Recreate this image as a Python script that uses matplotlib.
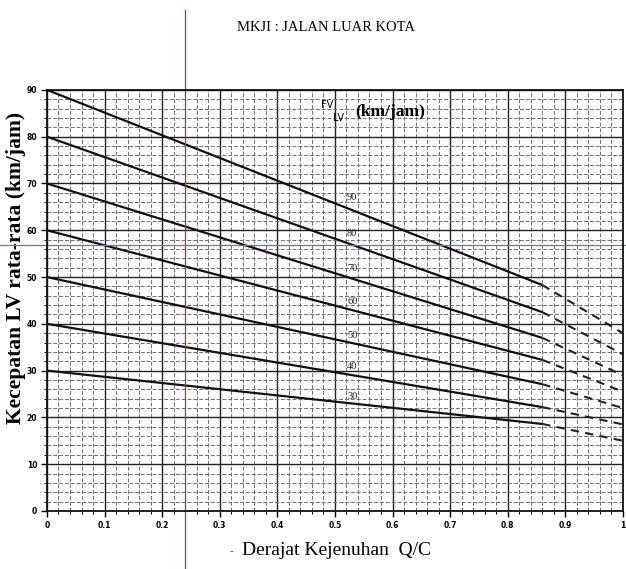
import matplotlib
matplotlib.use('Agg')
import matplotlib.pyplot as plt
import numpy as np

# free-flow speed curves (FV_LV, km/jam)
fv_values = [90, 80, 70, 60, 50, 40, 30]
qc_solid_end = 0.86
speed_at_solid_end = [48.3, 42.5, 37.0, 32.3, 27.1, 22.2, 18.6]
speed_at_qc1 = [38.0, 33.5, 29.0, 25.5, 22.0, 18.5, 15.0]
curve_labels = ["90", "80", "70", "60", "50", "40", "30"]
label_y = [66.9, 59.4, 51.9, 44.7, 37.6, 30.8, 24.4]

x_ticks = [0, 0.1, 0.2, 0.3, 0.4, 0.5, 0.6, 0.7, 0.8, 0.9, 1.0]
x_tick_labels = ["0", "0.1", "0.2", "0.3", "0.4", "0.5", "0.6", "0.7", "0.8", "0.9", "1"]
y_ticks = list(range(0, 91, 10))

marker_qc = 0.24     # red guide line
marker_speed = 56.8  # blue guide line

serif = "Liberation Serif"

fig = plt.figure(figsize=(6.26, 5.69), dpi=100)
ax = fig.add_axes([0.075, 0.102, 0.920, 0.740])

ax.set_xlim(0, 1)
ax.set_ylim(0, 90)

# graph-paper grid
ax.set_xticks(np.arange(0, 1.001, 0.02), minor=True)
ax.set_yticks(np.arange(0, 90.1, 2), minor=True)
ax.set_xticks(x_ticks)
ax.set_xticklabels(x_tick_labels)
ax.set_yticks(y_ticks)
ax.grid(which="minor", color="#6e6e6e", lw=0.7, ls=(0, (4, 2)))
ax.grid(which="major", color="#222222", lw=1.0)
ax.set_axisbelow(True)

for fv, s1, s2 in zip(fv_values, speed_at_solid_end, speed_at_qc1):
    ax.plot([0, qc_solid_end], [fv, s1], color="#111111", lw=1.6, solid_capstyle="butt")
    ax.plot([qc_solid_end, 1.0], [s1, s2], color="#222222", lw=1.5,
            ls=(0, (4, 3)))

for lab, ly in zip(curve_labels, label_y):
    ax.text(0.521, ly, lab, fontsize=7.5, family=serif, ha="left", va="center",
            color="#222222")

ax.text(0.476, 86.8, "FV", fontsize=7, family="DejaVu Sans", ha="left", va="center")
ax.text(0.497, 84.0, "LV", fontsize=7, family="DejaVu Sans", ha="left", va="center")
ax.text(0.536, 85.3, "(km/jam)", fontsize=12.5, family=serif, weight="bold",
        ha="left", va="center")

for sp in ax.spines.values():
    sp.set_linewidth(1.3)
    sp.set_color("#111111")

ax.tick_params(which="major", length=4, width=1, labelsize=5.5, pad=3)
ax.tick_params(which="minor", length=2, width=0.7)
for t in ax.get_xticklabels() + ax.get_yticklabels():
    t.set_fontweight("bold")

ax.set_ylabel("Kecepatan LV rata-rata (km/jam)", fontsize=15.5, family=serif,
              weight="bold")
ax.yaxis.set_label_coords(-0.037, 0.577)

fig.text(0.52, 0.951, "MKJI : JALAN LUAR KOTA", fontsize=10.5, family=serif,
         ha="center", va="center")
fig.text(0.537, 0.033, "Derajat Kejenuhan  Q/C", fontsize=14, family=serif,
         ha="center", va="center")
fig.text(0.37, 0.031, "-", fontsize=8, family=serif, ha="center", va="center",
         color="#555555")

# annotation guide lines drawn on top of the scan
ax.axvline(marker_qc, ymin=-0.14, ymax=1.19, color="#d62020", lw=0.9, clip_on=False)
ax.axhline(marker_speed, xmin=-0.085, xmax=1.005, color="#4a7fd0", lw=0.9, clip_on=False)

fig.savefig("out.png", dpi=100)
